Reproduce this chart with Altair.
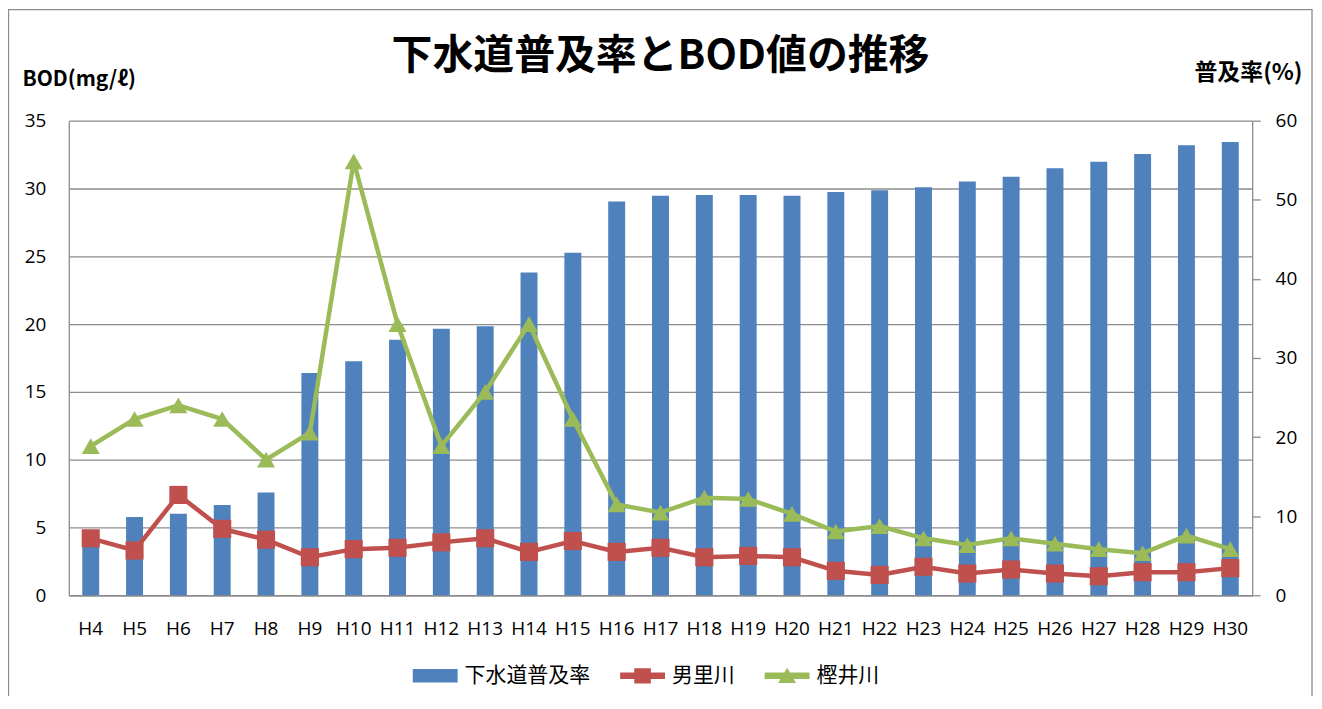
import altair as alt
import pandas as pd

# ---- data ----
cats = ["H4", "H5", "H6", "H7", "H8", "H9", "H10", "H11", "H12", "H13", "H14",
        "H15", "H16", "H17", "H18", "H19", "H20", "H21", "H22", "H23", "H24",
        "H25", "H26", "H27", "H28", "H29", "H30"]
sewer = [7.0, 9.9, 10.3, 11.4, 13.0, 28.1, 29.6, 32.3, 33.7, 34.0, 40.8, 43.3,
         49.8, 50.5, 50.6, 50.6, 50.5, 51.0, 51.2, 51.6, 52.3, 52.9, 54.0, 54.8,
         55.8, 56.9, 57.3]
otori = [4.2, 3.3, 7.4, 4.9, 4.1, 2.8, 3.4, 3.5, 3.9, 4.2, 3.2, 4.0, 3.2, 3.5,
         2.8, 2.9, 2.8, 1.8, 1.5, 2.1, 1.6, 1.9, 1.6, 1.4, 1.7, 1.7, 2.0]
kashii = [11.0, 13.0, 14.0, 13.0, 10.0, 12.0, 32.0, 20.0, 11.0, 15.0, 20.0, 13.0,
          6.7, 6.1, 7.2, 7.1, 6.0, 4.7, 5.1, 4.2, 3.7, 4.2, 3.8, 3.4, 3.1, 4.4, 3.4]
series_names = ["下水道普及率", "男里川", "樫井川"]
left_ticks = [0, 5, 10, 15, 20, 25, 30, 35]
right_ticks = [0, 10, 20, 30, 40, 50, 60]

BLUE = "#4F81BD"
RED = "#C0504D"
GREEN = "#9BBB59"
GRAY = "#8C8C8C"
JP = "Noto Sans CJK JP"
NUM = "Open Sans"

df = pd.DataFrame({"cat": cats, "sewer": sewer, "otori": otori, "kashii": kashii})
df_leg = pd.DataFrame({"series": series_names})

legend_shapes = [
    "M-1,-0.3H1V0.3H-1Z",
    "M-1,-0.14H1V0.14H-1Z M-0.37,-0.34H0.37V0.34H-0.37Z",
    "M-1,-0.14H1V0.14H-1Z M0,-0.36L0.4,0.32H-0.4Z",
]

X = alt.X(
    "cat:N", sort=cats, title=None,
    scale=alt.Scale(type="band", paddingInner=0, paddingOuter=0),
    axis=alt.Axis(labelAngle=0, ticks=False, domainColor=GRAY, domainWidth=1.3,
                  labelFont=NUM, labelFontSize=19, labelColor="black",
                  labelPadding=24),
)

left_axis = alt.Axis(
    orient="left", values=left_ticks, grid=True, gridColor=GRAY, gridWidth=1.3,
    ticks=False, domainColor=GRAY, domainWidth=1.3,
    labelFont=NUM, labelFontSize=19, labelColor="black", labelPadding=23,
    title="BOD(mg/ℓ)", titleAngle=0, titleX=-47, titleY=-35,
    titleAlign="left", titleBaseline="alphabetic",
    titleFont=JP, titleFontSize=21, titleFontWeight="bold", titleColor="black",
)
right_axis = alt.Axis(
    orient="right", values=right_ticks, grid=False, ticks=True, tickSize=8,
    tickColor=GRAY, tickWidth=1.3, domainColor=GRAY, domainWidth=1.3,
    labelFont=NUM, labelFontSize=19, labelColor="black", labelPadding=15,
    title="普及率(%)", titleAngle=0, titleX=50, titleY=-41,
    titleAlign="right", titleBaseline="alphabetic",
    titleFont=JP, titleFontSize=23, titleFontWeight="bold", titleColor="black",
)

left_scale = alt.Scale(domain=[0, 35], nice=False)
right_scale = alt.Scale(domain=[0, 60], nice=False)

base = alt.Chart(df)

bars = base.mark_bar(size=17, color=BLUE).encode(
    x=X, y=alt.Y("sewer:Q", scale=right_scale, axis=right_axis)
)

line_o = base.mark_line(color=RED, strokeWidth=4.5).encode(
    x=X, y=alt.Y("otori:Q", scale=left_scale, axis=left_axis)
)
pts_o = base.mark_point(shape="square", filled=True, size=330, color=RED, opacity=1).encode(
    x=X, y=alt.Y("otori:Q", scale=left_scale, axis=left_axis)
)
line_k = base.mark_line(color=GREEN, strokeWidth=4.5).encode(
    x=X, y=alt.Y("kashii:Q", scale=left_scale, axis=left_axis)
)
pts_k = base.mark_point(shape="triangle-up", filled=True, size=330, color=GREEN, opacity=1).encode(
    x=X, y=alt.Y("kashii:Q", scale=left_scale, axis=left_axis)
)

# legend-only layer (zero-size points, symbols drawn by the legend)
legend_helper = alt.Chart(df_leg).mark_point(filled=True, size=0).encode(
    color=alt.Color("series:N", title=None, sort=series_names,
                    scale=alt.Scale(domain=series_names, range=[BLUE, RED, GREEN])),
    shape=alt.Shape("series:N", title=None, sort=series_names,
                    scale=alt.Scale(domain=series_names, range=legend_shapes)),
)

border = alt.Chart(pd.DataFrame({"b": [0]})).mark_rect(
    fillOpacity=0, stroke=GRAY, strokeWidth=1.3
).encode(
    x=alt.value(-60.5), x2=alt.value(1247), y=alt.value(-111.5), y2=alt.value(700)
)

rivers = alt.layer(line_o, line_k, pts_o, pts_k, legend_helper, border)

chart = (
    alt.layer(bars, rivers)
    .resolve_scale(y="independent")
    .properties(
        width=1187, height=476,
        autosize=alt.AutoSizeParams(type="none"),
        padding={"left": 61, "top": 112, "right": 62, "bottom": 100},
        title=alt.TitleParams(
            "下水道普及率とBOD値の推移", font=JP, fontSize=41, fontWeight="bold",
            anchor="middle", frame="group", offset=42, dy=111, color="black",
        ),
    )
    .configure_view(stroke=None)
    .configure_legend(
        orient="none", legendX=345, legendY=534, direction="horizontal",
        labelFont=JP, labelFontSize=21, labelColor="black",
        symbolSize=2025, symbolStrokeWidth=0, symbolOpacity=1,
        labelOffset=7, columnPadding=30,
    )
)

chart.save("out.html", embed_options={"renderer": "svg", "actions": False})
